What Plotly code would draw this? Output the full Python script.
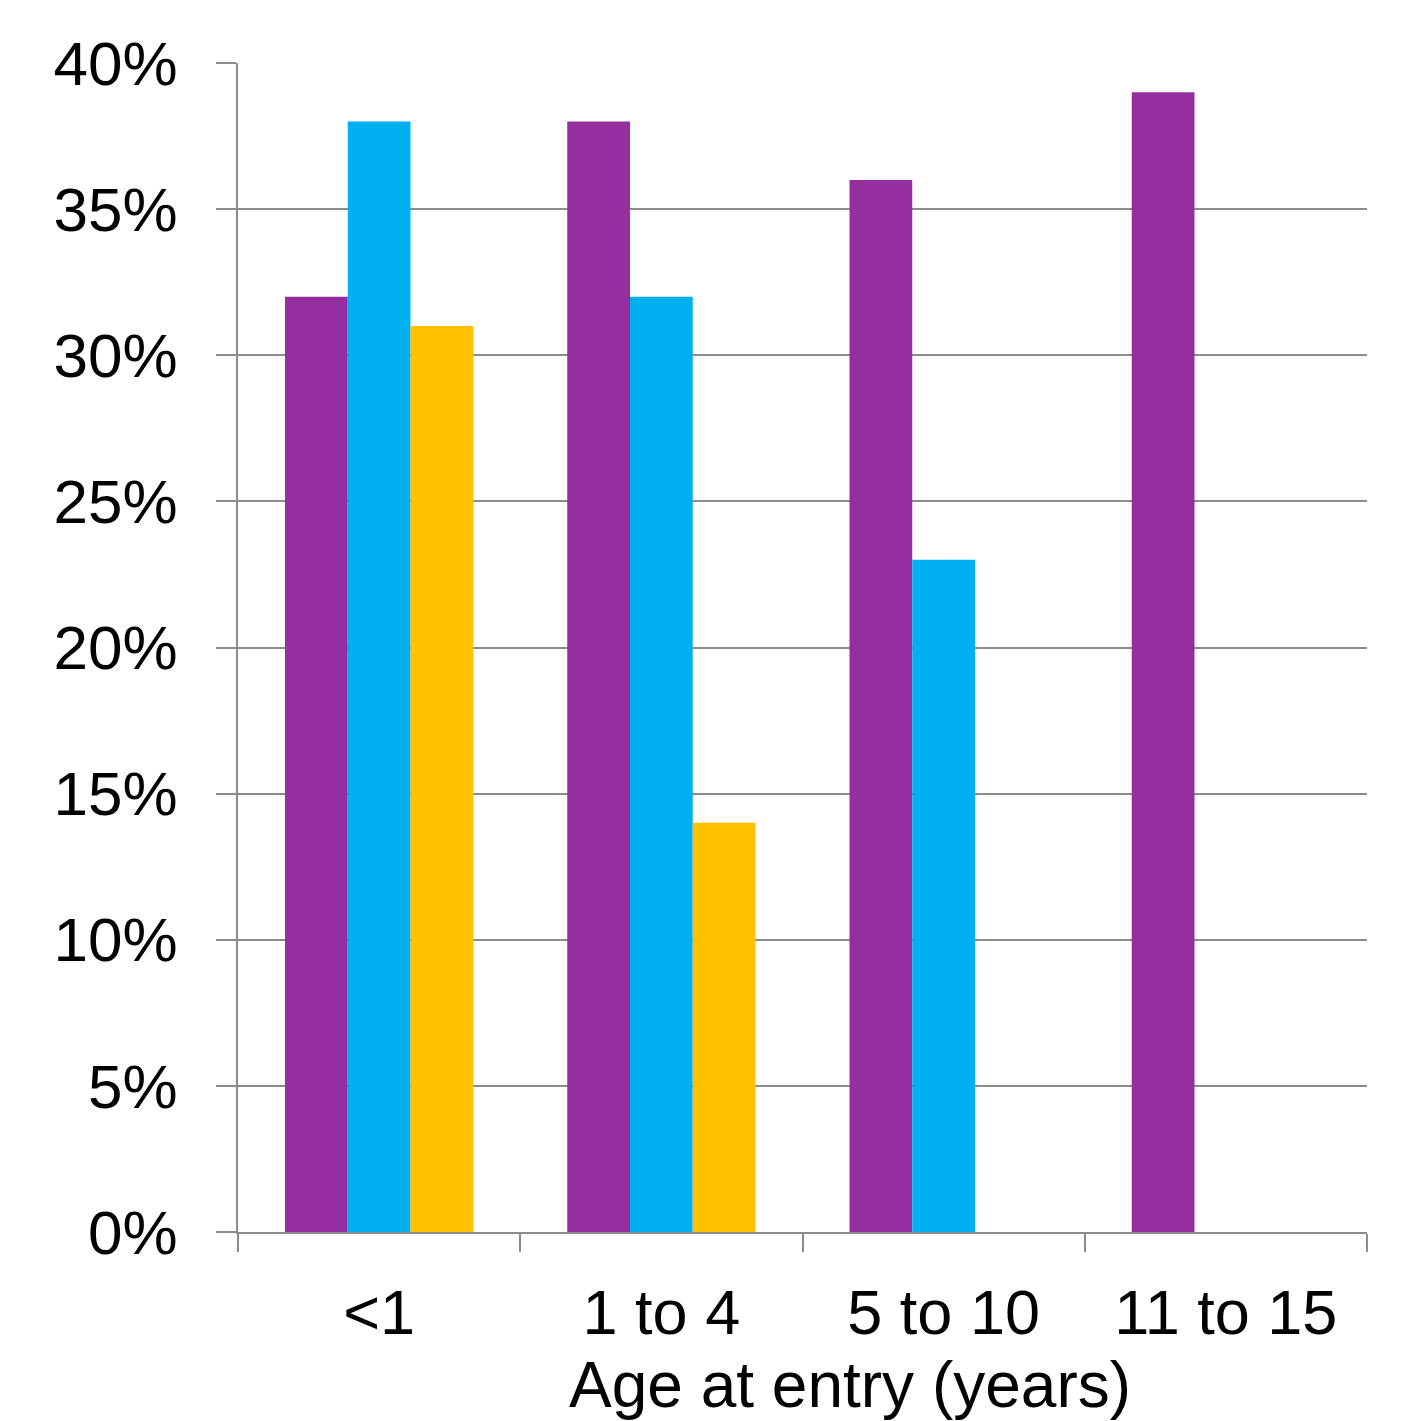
import plotly.graph_objects as go

categories = ["<1", "1 to 4", "5 to 10", "11 to 15"]
series_a = [32, 38, 36, 39]
series_b = [38, 32, 23, None]
series_c = [31, 14, None, None]
y_ticks = [0, 5, 10, 15, 20, 25, 30, 35, 40]
y_tick_labels = [f"{v}%" for v in y_ticks]
x_title = "Age at entry (years)"

colors = ["#952FA0", "#00B0F0", "#FFC000"]
font = "Liberation Sans, Arial, sans-serif"

fig = go.Figure()
for vals, c, name in zip([series_a, series_b, series_c], colors, ["A", "B", "C"]):
    fig.add_trace(go.Bar(x=categories, y=vals, marker=dict(color=c, line=dict(width=0)), name=name))

fig.update_layout(
    width=1415, height=1421,
    margin=dict(l=238, r=48, t=63, b=189),
    barmode="group", bargap=0.333, bargroupgap=0,
    showlegend=False,
    plot_bgcolor="white", paper_bgcolor="white",
    font=dict(family=font, size=62, color="black"),
)
fig.update_yaxes(
    range=[0, 40], tickvals=y_ticks, ticktext=y_tick_labels,
    showgrid=True, gridcolor="#8c8c8c", gridwidth=2,
    showline=True, linecolor="#8c8c8c", linewidth=2,
    ticks="outside", ticklen=20, tickwidth=2, tickcolor="#8c8c8c",
    ticklabelstandoff=26, zeroline=False,
    tickfont=dict(size=62, family=font, color="black"),
)
fig.update_xaxes(
    showline=True, linecolor="#8c8c8c", linewidth=2,
    ticks="outside", tickson="boundaries", ticklen=18, tickwidth=2, tickcolor="#8c8c8c",
    tickfont=dict(size=63, family=font, color="black"),
    ticklabelstandoff=24,
)
fig.add_annotation(
    text=x_title, xref="paper", yref="paper", x=0.542, y=-0.1305,
    xanchor="center", yanchor="middle", showarrow=False,
    font=dict(size=64, family=font, color="black"),
)
fig.write_html("out.html")
